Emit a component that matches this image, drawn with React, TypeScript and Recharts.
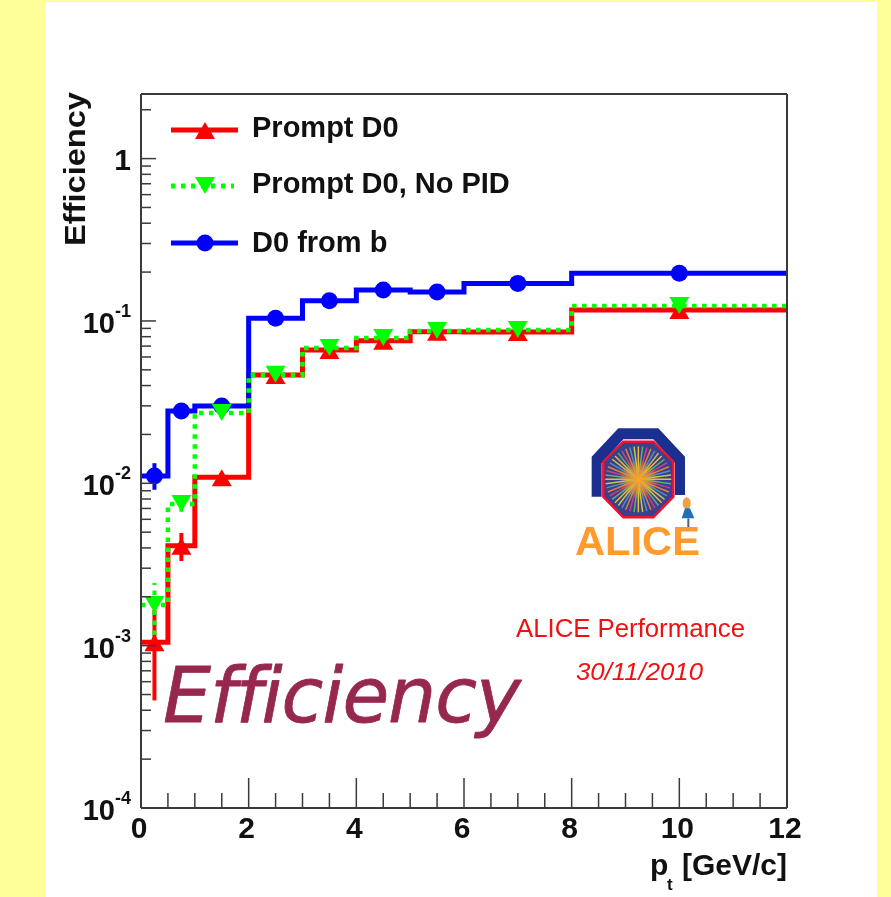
import React from 'react';
import { ComposedChart, Line, XAxis, YAxis, ErrorBar } from 'recharts';

const binEdges = [0, 0.5, 1, 2, 3, 4, 5, 6, 8, 12];
const promptValues = [0.00105, 0.00413, 0.0109, 0.0464, 0.0662, 0.0755, 0.0858, 0.0854, 0.1167];
const promptLow = [0.00046, 0.00332, 0.0102, 0.0445, 0.064, 0.073, 0.083, 0.083, 0.113];
const promptHigh = [0.00166, 0.00494, 0.0116, 0.0485, 0.069, 0.078, 0.088, 0.088, 0.12];
const noPidValues = [0.00178, 0.00746, 0.0271, 0.0466, 0.0681, 0.0785, 0.0867, 0.0879, 0.1235];
const noPidLow = [0.00101, 0.00668, 0.0255, 0.0448, 0.0655, 0.0755, 0.0835, 0.0845, 0.118];
const noPidHigh = [0.00243, 0.00883, 0.0288, 0.0485, 0.071, 0.082, 0.09, 0.092, 0.129];
const fromBValues = [0.0111, 0.0279, 0.0299, 0.1038, 0.1332, 0.155, 0.1506, 0.1704, 0.197];
const fromBLow = [0.00912, 0.0265, 0.0285, 0.098, 0.127, 0.148, 0.144, 0.164, 0.19];
const fromBHigh = [0.0133, 0.0293, 0.0313, 0.11, 0.139, 0.162, 0.157, 0.177, 0.204];
const xTicks = [0, 0.5, 1, 1.5, 2, 2.5, 3, 3.5, 4, 4.5, 5, 5.5, 6, 6.5, 7, 7.5, 8, 8.5, 9, 9.5, 10, 10.5, 11, 11.5, 12];
const xMajor = [0, 2, 4, 6, 8, 10, 12];
const yMajor = [0.0001, 0.001, 0.01, 0.1, 1];
const yMinorFactors = [2, 3, 4, 5, 6, 7, 8, 9];
const yTicks = [...yMajor, ...yMajor.flatMap((m) => yMinorFactors.map((f) => m * f)).filter((v) => v <= 2.5)];
const legendNames = ['Prompt D0', 'Prompt D0, No PID', 'D0 from b'];

const AXIS = '#3a3a3a';
const RED = '#ff0000';
const GREEN = '#00ff00';
const BLUE = '#0000ff';
const FONT = '"Liberation Sans", Arial, sans-serif';

function buildRows(values: number[], low: number[], high: number[]) {
  const rows: any[] = [];
  values.forEach((v, i) => {
    const a = binEdges[i];
    const b = binEdges[i + 1];
    rows.push({ x: a, y: v });
    rows.push({ x: (a + b) / 2, y: v, center: true, err: [v - low[i], high[i] - v] });
  });
  rows.push({ x: 12, y: values[values.length - 1] });
  return rows;
}

const promptRows = buildRows(promptValues, promptLow, promptHigh);
const noPidRows = buildRows(noPidValues, noPidLow, noPidHigh);
const fromBRows = buildRows(fromBValues, fromBLow, fromBHigh);

function Marker({ cx, cy, kind, color }: { cx: number; cy: number; kind: string; color: string }) {
  if (kind === 'up') return <polygon points={`${cx},${cy - 8} ${cx + 10},${cy + 9} ${cx - 10},${cy + 9}`} fill={color} />;
  if (kind === 'down') return <polygon points={`${cx},${cy + 8} ${cx + 10},${cy - 9} ${cx - 10},${cy - 9}`} fill={color} />;
  return <circle cx={cx} cy={cy} r={8.5} fill={color} />;
}

const makeDot = (kind: string, color: string) => (props: any) => {
  const { cx, cy, payload, index } = props;
  if (!payload.center) return <g key={index} />;
  return <Marker key={index} cx={cx} cy={cy} kind={kind} color={color} />;
};

function YTick(props: any) {
  const { x, y, payload } = props;
  const v = payload.value;
  const exponent = Math.log10(v);
  const isMajor = Math.abs(exponent - Math.round(exponent)) < 1e-6;
  return (
    <g>
      <line x1={x} x2={x + (isMajor ? 15 : 10)} y1={y} y2={y} stroke={AXIS} strokeWidth={1.5} />
      {isMajor && Math.round(exponent) === 0 && (
        <text x={x - 10} y={y + 11} textAnchor="end" fontFamily={FONT} fontWeight={700} fontSize={30} fill="#111">1</text>
      )}
      {isMajor && Math.round(exponent) !== 0 && (
        <text x={x - 10} y={y + 12} textAnchor="end" fontFamily={FONT} fontWeight={700} fontSize={29} fill="#111">
          10
          <tspan fontSize={18} dy={-16}>{String(Math.round(exponent))}</tspan>
        </text>
      )}
    </g>
  );
}

function XTick(props: any) {
  const { x, y, payload } = props;
  const isMajor = xMajor.includes(payload.value);
  return (
    <g>
      <line x1={x} x2={x} y1={y} y2={y - (isMajor ? 30 : 15)} stroke={AXIS} strokeWidth={1.5} />
      {isMajor && (
        <text x={x - 2} y={y + 30} textAnchor="middle" fontFamily={FONT} fontWeight={700} fontSize={30} fill="#111">{payload.value}</text>
      )}
    </g>
  );
}

const rayAngles = Array.from({ length: 48 }, (_, i) => (i * Math.PI * 2) / 48);
const rayColors = ['#e8c030', '#60b070', '#d04078', '#e88030', '#5090c0', '#c8c840'];

function Logo() {
  const p = (pts: number[][]) => pts.map(([a, b]) => `${560 + a / 3},${420 + b / 3}`).join(' ');
  const cx = 560 + 235 / 3;
  const cy = 420 + 178 / 3;
  return (
    <g>
      <defs>
        <radialGradient id="core">
          <stop offset="0%" stopColor="#f8a820" stopOpacity={1} />
          <stop offset="35%" stopColor="#f0a030" stopOpacity={0.75} />
          <stop offset="100%" stopColor="#f0a030" stopOpacity={0} />
        </radialGradient>
      </defs>
      <polygon
        points={p([[95, 230], [95, 110], [175, 25], [295, 25], [375, 110], [375, 225], [345, 225], [345, 130], [280, 58], [190, 58], [125, 130], [125, 230]])}
        fill="#1a2f90"
      />
      <polygon
        points={p([[190, 65], [280, 65], [340, 125], [340, 230], [280, 292], [190, 292], [130, 230], [130, 125]])}
        fill="#3a3f90"
        stroke="#f01030"
        strokeWidth={2.5}
      />
      {rayAngles.map((a, i) => (
        <line
          key={i}
          x1={cx}
          y1={cy}
          x2={cx + Math.cos(a) * 33}
          y2={cy + Math.sin(a) * 33}
          stroke={rayColors[i % rayColors.length]}
          strokeWidth={1.5}
        />
      ))}
      <circle cx={cx} cy={cy} r={20} fill="url(#core)" />
      <ellipse cx={560 + 380 / 3} cy={420 + 250 / 3} rx={4} ry={6} fill="#f0a040" />
      <polygon points={p([[375, 265], [390, 265], [403, 295], [365, 295]])} fill="#2070b8" />
      <line x1={560 + 385 / 3} x2={560 + 385 / 3} y1={420 + 295 / 3} y2={420 + 325 / 3} stroke="#506080" strokeWidth={2} />
      <text x={575} y={555} fontFamily={FONT} fontWeight={700} fontSize={41} fill="#ff9a2e" textLength={125} lengthAdjust="spacingAndGlyphs">ALICE</text>
    </g>
  );
}

const legendRows = [
  { y: 130, x2: 238, base: 137, color: RED, dash: undefined, kind: 'up' },
  { y: 186, x2: 234, base: 193, color: GREEN, dash: '4.5 5.5', kind: 'down' },
  { y: 243, x2: 238, base: 252, color: BLUE, dash: undefined, kind: 'circle' },
];

export default function App() {
  return (
    <div style={{ position: 'absolute', left: 0, top: 0, width: 891, height: 897, background: '#ffff99', overflow: 'hidden', filter: 'blur(0.5px)' }}>
      <div style={{ position: 'absolute', left: 45, top: 2, width: 832, height: 895, background: '#fff' }} />
      <div style={{ position: 'absolute', left: 0, top: 0 }}>
        <ComposedChart
          width={891}
          height={897}
          margin={{ top: 93, right: 103, bottom: 49, left: 81 }}
        >
          <XAxis
            xAxisId="main"
            dataKey="x"
            type="number"
            domain={[0, 12]}
            ticks={xTicks}
            interval={0}
            height={40}
            tickSize={0}
            tickMargin={0}
            tick={<XTick />}
            axisLine={{ stroke: AXIS, strokeWidth: 2 }}
            tickLine={false}
            allowDataOverflow
          />
          <XAxis xAxisId="top" orientation="top" type="number" domain={[0, 12]} height={1} tick={false} tickLine={false} axisLine={{ stroke: AXIS, strokeWidth: 2 }} />
          <YAxis
            yAxisId="main"
            type="number"
            scale="log"
            domain={[0.0001, 2.5]}
            ticks={yTicks}
            interval={0}
            width={60}
            tickSize={0}
            tickMargin={0}
            tick={<YTick />}
            axisLine={{ stroke: AXIS, strokeWidth: 2 }}
            tickLine={false}
            allowDataOverflow
          />
          <YAxis yAxisId="right" orientation="right" type="number" domain={[0, 1]} width={1} tick={false} tickLine={false} axisLine={{ stroke: AXIS, strokeWidth: 2 }} />
          <Line xAxisId="main" yAxisId="main" data={promptRows} dataKey="y" name={legendNames[0]} type="stepAfter" stroke={RED} strokeWidth={5} isAnimationActive={false} dot={makeDot('up', RED)} activeDot={false}>
            <ErrorBar dataKey="err" direction="y" width={0} stroke={RED} strokeWidth={4} isAnimationActive={false} />
          </Line>
          <Line xAxisId="main" yAxisId="main" data={fromBRows} dataKey="y" name={legendNames[2]} type="stepAfter" stroke={BLUE} strokeWidth={5} isAnimationActive={false} dot={makeDot('circle', BLUE)} activeDot={false}>
            <ErrorBar dataKey="err" direction="y" width={0} stroke={BLUE} strokeWidth={4} isAnimationActive={false} />
          </Line>
          <Line xAxisId="main" yAxisId="main" data={noPidRows} dataKey="y" name={legendNames[1]} type="stepAfter" stroke={GREEN} strokeWidth={4.5} strokeDasharray="4.5 5.5" isAnimationActive={false} dot={makeDot('down', GREEN)} activeDot={false}>
            <ErrorBar dataKey="err" direction="y" width={0} stroke={GREEN} strokeWidth={4} strokeDasharray="4.5 5.5" isAnimationActive={false} />
          </Line>
        </ComposedChart>
      </div>
      <svg width={891} height={897} style={{ position: 'absolute', left: 0, top: 0, pointerEvents: 'none' }}>
        <text transform="translate(85,169) rotate(-90)" textAnchor="middle" fontFamily={FONT} fontWeight={700} fontSize={30} fill="#111" textLength={154} lengthAdjust="spacingAndGlyphs">Efficiency</text>
        <text x={650} y={875} fontFamily={FONT} fontWeight={700} fontSize={30} fill="#111">p</text>
        <text x={667} y={890} fontFamily={FONT} fontWeight={700} fontSize={17} fill="#111">t</text>
        <text x={787} y={875} textAnchor="end" fontFamily={FONT} fontWeight={700} fontSize={30} fill="#111">[GeV/c]</text>
        {legendRows.map((r, i) => (
          <g key={i}>
            <line x1={171} x2={r.x2} y1={r.y} y2={r.y} stroke={r.color} strokeWidth={5} strokeDasharray={r.dash} />
            <Marker cx={205} cy={r.y} kind={r.kind} color={r.color} />
            <text x={252} y={r.base} fontFamily={FONT} fontWeight={700} fontSize={29} fill="#111">{legendNames[i]}</text>
          </g>
        ))}
        <Logo />
        <text x={516} y={637} fontFamily={FONT} fontSize={25} fill="#f01010" textLength={229} lengthAdjust="spacingAndGlyphs">ALICE Performance</text>
        <text x={576} y={680} fontFamily={FONT} fontStyle="italic" fontSize={24} fill="#f01010" textLength={127} lengthAdjust="spacingAndGlyphs">30/11/2010</text>
        <text x={163} y={722} fontFamily='"DejaVu Sans", sans-serif' fontStyle="italic" fontSize={76} fill="#96284f" stroke="#96284f" strokeWidth={0.8} strokeLinejoin="round" style={{ fontVariantLigatures: 'none' }} textLength={358} lengthAdjust="spacing">Efficiency</text>
      </svg>
    </div>
  );
}
